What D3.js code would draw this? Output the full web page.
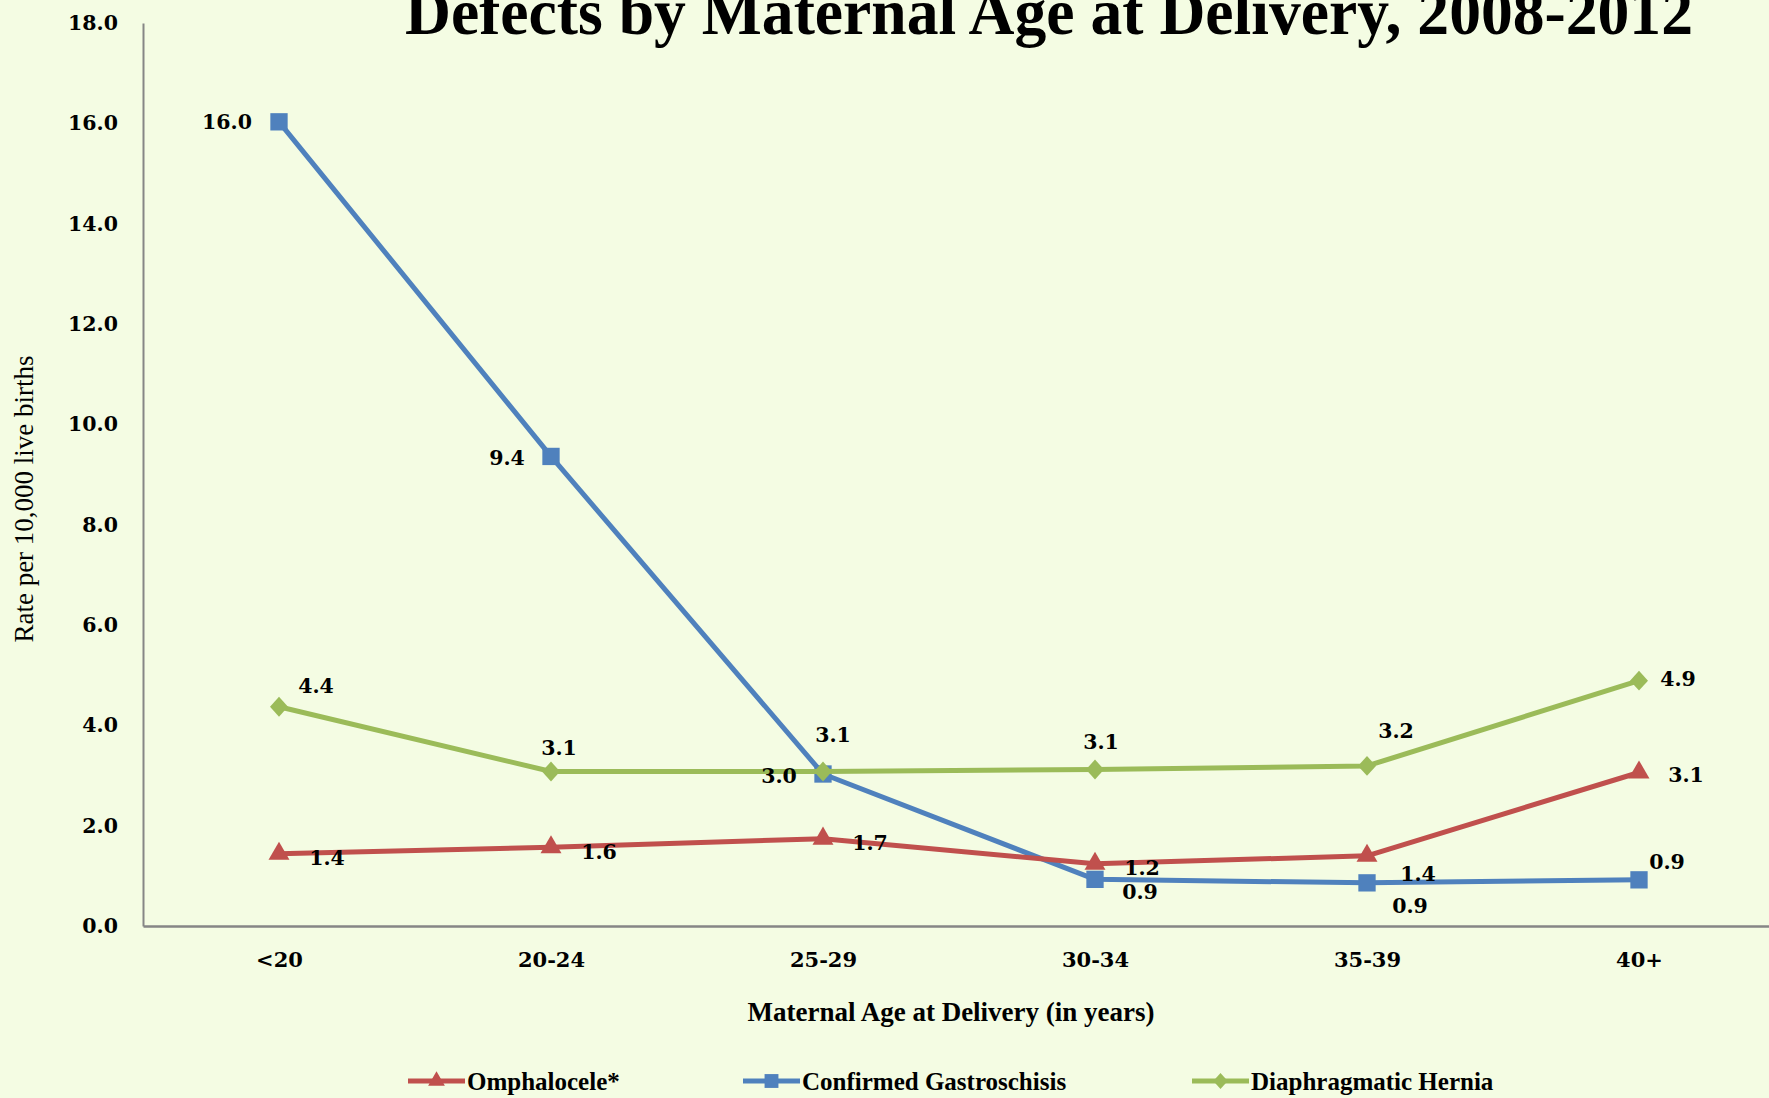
<!DOCTYPE html>
<html>
<head>
<meta charset="utf-8">
<script src="https://cdn.jsdelivr.net/npm/d3@7"></script>
<style>
  body { margin: 0; background: #f4fce3; overflow: hidden; }
  text { font-family: "Liberation Serif", "DejaVu Serif", serif; fill: #000; }
  .num { font-family: "DejaVu Serif", serif; font-weight: bold; }
</style>
</head>
<body>
<div id="chart"></div>
<script>
// data
var ageGroups = ["<20", "20-24", "25-29", "30-34", "35-39", "40+"];
var omphalocele = [1.44, 1.57, 1.74, 1.24, 1.40, 3.06];
var gastroschisis = [16.03, 9.36, 3.03, 0.93, 0.86, 0.92];
var hernia = [4.37, 3.08, 3.08, 3.12, 3.19, 4.89];
var yTicks = [0, 2, 4, 6, 8, 10, 12, 14, 16, 18];
var seriesNames = ["Omphalocele*", "Confirmed Gastroschisis", "Diaphragmatic Hernia"];

// where each data label sits relative to its point (px)
var omphLabelPos = [[48, 4], [48, 4], [47, 4], [47, 4], [51, 18], [47, 2]];
var gastLabelPos = [[-52, 0], [-44, 1], [-44, 2], [45, 12], [43, 23], [28, -18]];
var hernLabelPos = [[37, -21], [8, -24], [10, -37], [6, -28], [29, -35], [39, -2]];

var W = 1769, H = 1098;
var margin = {top: 23, left: 143};
var plotW = 1632, plotH = 903;

var svg = d3.select("#chart")
  .append("svg")
    .attr("width", W)
    .attr("height", H);

svg.append("rect").attr("width", W).attr("height", H).attr("fill", "#f4fce3");

var g = svg.append("g")
  .attr("transform", "translate(" + margin.left + "," + margin.top + ")");

var x = d3.scalePoint()
  .domain(ageGroups)
  .range([0, plotW])
  .padding(0.5);

var y = d3.scaleLinear()
  .domain([0, 18])
  .range([plotH, 0]);

// y axis
var yAxis = g.append("g")
  .call(d3.axisLeft(y).tickValues(yTicks).tickSize(0).tickPadding(25)
    .tickFormat(d3.format(".1f")));
yAxis.select(".domain").attr("stroke", "#868686").attr("stroke-width", 2);
yAxis.selectAll("text")
  .attr("class", "num")
  .style("font-size", "20.5px");

// x axis
var xAxis = g.append("g")
  .attr("transform", "translate(0," + plotH + ")")
  .call(d3.axisBottom(x).tickSize(0).tickPadding(26));
xAxis.select(".domain").attr("stroke", "#868686").attr("stroke-width", 2.5);
xAxis.selectAll("text")
  .attr("class", "num")
  .style("font-size", "21px");

// axis titles
svg.append("text")
  .attr("transform", "translate(33,499) rotate(-90)")
  .attr("text-anchor", "middle")
  .style("font-size", "27px")
  .text("Rate per 10,000 live births");

svg.append("text")
  .attr("x", 951)
  .attr("y", 1021)
  .attr("text-anchor", "middle")
  .style("font-size", "27px")
  .style("font-weight", "bold")
  .text("Maternal Age at Delivery (in years)");

// title, partly cut by the top edge like in the source
svg.append("text")
  .attr("x", 1049)
  .attr("y", 34)
  .attr("text-anchor", "middle")
  .attr("textLength", 1288)
  .attr("lengthAdjust", "spacingAndGlyphs")
  .style("font-size", "66px")
  .style("font-weight", "bold")
  .text("Defects by Maternal Age at Delivery, 2008-2012");

var line = d3.line()
  .x(function(d, i) { return x(ageGroups[i]); })
  .y(function(d) { return y(d); });

function diamond(s) {
  return "M0," + (-s * 1.1) + "L" + s + ",0L0," + (s * 1.1) + "L" + (-s) + ",0Z";
}

var series = [
  {name: seriesNames[0], values: omphalocele, color: "#c0504d", labels: omphLabelPos,
   marker: d3.symbol().type(d3.symbolTriangle).size(190)()},
  {name: seriesNames[1], values: gastroschisis, color: "#4f81bd", labels: gastLabelPos,
   marker: d3.symbol().type(d3.symbolSquare).size(300)()},
  {name: seriesNames[2], values: hernia, color: "#9bbb59", labels: hernLabelPos,
   marker: diamond(9)}
];

// draw gastroschisis first, then omphalocele, hernia on top
[series[1], series[0], series[2]].forEach(function(s) {
  g.append("path")
    .datum(s.values)
    .attr("fill", "none")
    .attr("stroke", s.color)
    .attr("stroke-width", 5)
    .attr("stroke-linejoin", "round")
    .attr("d", line);

  g.selectAll(null)
    .data(s.values)
    .enter()
    .append("path")
      .attr("d", s.marker)
      .attr("fill", s.color)
      .attr("transform", function(d, i) {
        return "translate(" + x(ageGroups[i]) + "," + y(d) + ")";
      });
});

series.forEach(function(s) {
  g.selectAll(null)
    .data(s.values)
    .enter()
    .append("text")
      .attr("class", "num")
      .attr("x", function(d, i) { return x(ageGroups[i]) + s.labels[i][0]; })
      .attr("y", function(d, i) { return y(d) + s.labels[i][1]; })
      .attr("dy", "0.36em")
      .attr("text-anchor", "middle")
      .style("font-size", "20.5px")
      .text(function(d) { return d3.format(".1f")(d); });
});

// legend
var legendX = [408, 743, 1192];
var legend = svg.append("g").attr("transform", "translate(0,1081)");
series.forEach(function(s, i) {
  var lg = legend.append("g").attr("transform", "translate(" + legendX[i] + ",0)");
  lg.append("line")
    .attr("x1", 0).attr("x2", 57)
    .attr("stroke", s.color)
    .attr("stroke-width", 5);
  lg.append("path")
    .attr("d", s.marker)
    .attr("fill", s.color)
    .attr("transform", "translate(28.5,0) scale(0.8)");
  lg.append("text")
    .attr("x", 59)
    .attr("dy", "0.35em")
    .style("font-size", "25px")
    .style("font-weight", "bold")
    .text(s.name);
});
</script>
</body>
</html>
